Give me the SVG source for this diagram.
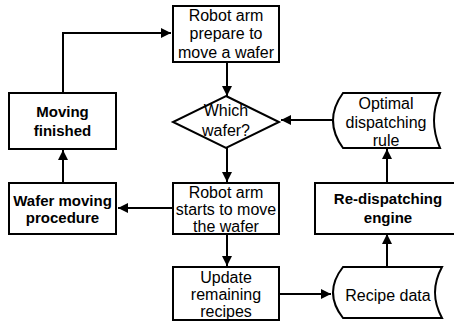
<svg xmlns="http://www.w3.org/2000/svg" width="454" height="321" viewBox="0 0 454 321">
  <style>
    .box { fill: #ffffff; stroke: #000000; stroke-width: 2; }
    .wire { fill: none; stroke: #000000; stroke-width: 2; }
    .t { font-family: "Liberation Sans", Arial, sans-serif; font-size: 16px; fill: #000000; text-anchor: middle; }
    .b { font-weight: bold; font-size: 15px; }
  </style>
  <defs>
    <marker id="arrow" viewBox="0 0 10 10" refX="10" refY="5" markerWidth="5.5" markerHeight="5" orient="auto" markerUnits="strokeWidth">
      <path d="M0,0 L10,5 L0,10 Z" fill="#000000"/>
    </marker>
  </defs>
  <rect width="454" height="321" fill="#ffffff"/>

  <!-- connectors -->
  <g id="connectors">
    <path class="wire" d="M227,62 L227,96" marker-end="url(#arrow)"/>
    <path class="wire" d="M227,148 L227,182" marker-end="url(#arrow)"/>
    <path class="wire" d="M227,234 L227,266" marker-end="url(#arrow)"/>
    <path class="wire" d="M172,208 L118,208" marker-end="url(#arrow)"/>
    <path class="wire" d="M63,182 L63,150" marker-end="url(#arrow)"/>
    <path class="wire" d="M63,92 L63,33 L171,33" marker-end="url(#arrow)"/>
    <path class="wire" d="M333,120 L281,120" marker-end="url(#arrow)"/>
    <path class="wire" d="M387,182 L387,149" marker-end="url(#arrow)"/>
    <path class="wire" d="M387,267 L387,234" marker-end="url(#arrow)"/>
    <path class="wire" d="M279,294 L331,294" marker-end="url(#arrow)"/>
  </g>

  <!-- nodes -->
  <g id="prepare">
    <rect class="box" x="173" y="6" width="106" height="56"/>
    <text class="t" x="226" y="20.5">Robot arm</text>
    <text class="t" x="226" y="39">prepare to</text>
    <text class="t" x="226" y="57.5">move a wafer</text>
  </g>

  <g id="which-wafer">
    <polygon class="box" points="226,96 279,122 226,148 173,122"/>
    <text class="t" x="226" y="116">Which</text>
    <text class="t" x="226" y="135.5">wafer?</text>
  </g>

  <g id="starts-move">
    <rect class="box" x="173" y="183" width="106" height="51"/>
    <text class="t" x="226" y="197.5">Robot arm</text>
    <text class="t" x="226" y="215">starts to move</text>
    <text class="t" x="226" y="231.5">the wafer</text>
  </g>

  <g id="update-recipes">
    <rect class="box" x="173" y="267" width="106" height="53"/>
    <text class="t" x="226" y="282.5">Update</text>
    <text class="t" x="226" y="299.5">remaining</text>
    <text class="t" x="226" y="316.5">recipes</text>
  </g>

  <g id="moving-finished">
    <rect class="box" x="9" y="93" width="107" height="56"/>
    <text class="t b" x="62.5" y="117">Moving</text>
    <text class="t b" x="62.5" y="136">finished</text>
  </g>

  <g id="wafer-moving">
    <rect class="box" x="9" y="183" width="107" height="51"/>
    <text class="t b" x="62.5" y="205.5">Wafer moving</text>
    <text class="t b" x="62.5" y="223">procedure</text>
  </g>

  <g id="optimal-rule">
    <path class="box" d="M343,93 L440,93 Q428,120.5 440,148 L343,148 Q323,120.5 343,93 Z"/>
    <text class="t" x="386" y="109">Optimal</text>
    <text class="t" x="386" y="127.5">dispatching</text>
    <text class="t" x="386" y="146">rule</text>
  </g>

  <g id="re-dispatching">
    <rect class="box" x="315" y="183" width="148" height="51"/>
    <text class="t b" x="388" y="203.5">Re-dispatching</text>
    <text class="t b" x="388" y="223">engine</text>
  </g>

  <g id="recipe-data">
    <path class="box" d="M343,267 L442,267 Q428,292.5 442,318 L343,318 Q323,292.5 343,267 Z"/>
    <text class="t" x="388" y="300.5">Recipe data</text>
  </g>
</svg>
